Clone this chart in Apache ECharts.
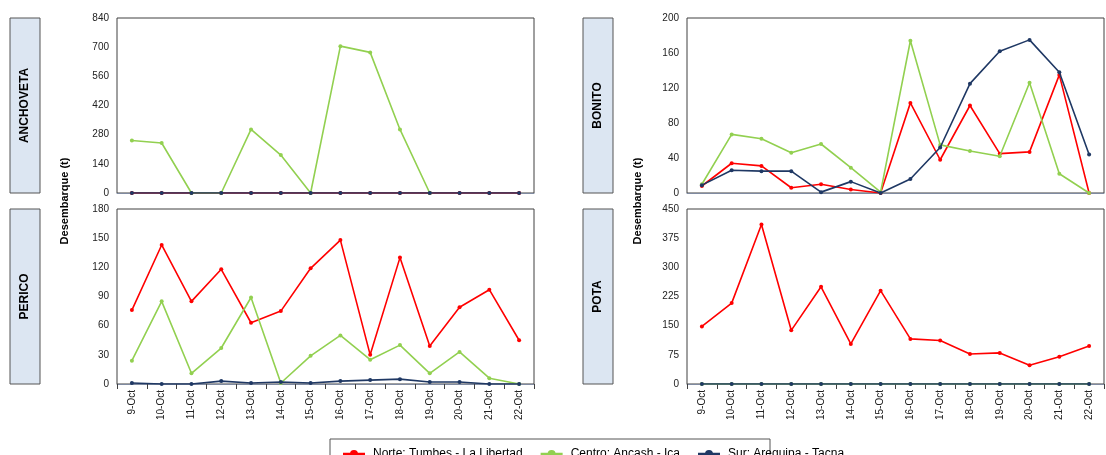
<!DOCTYPE html>
<html><head><meta charset="utf-8">
<script src="https://cdn.jsdelivr.net/npm/echarts@6/dist/echarts.min.js"></script>
<style>html,body{margin:0;background:#fff}#c{width:1106px;height:455px}</style>
</head><body><div id="c"></div>
<script>
// ─── Data ─────────────────────────────
const days = ['9-Oct','10-Oct','11-Oct','12-Oct','13-Oct','14-Oct','15-Oct','16-Oct','17-Oct','18-Oct','19-Oct','20-Oct','21-Oct','22-Oct'];
const zeros = [0,0,0,0,0,0,0,0,0,0,0,0,0,0];

const anchNorte = zeros;
const anchCentro = [252,240,0,0,305,182,0,705,675,305,0,null,null,null];
const anchSur = zeros;

const bonNorte = [8,34,31,6,10,4,0,103,38,100,45,47,135,0];
const bonCentro = [10,67,62,46,56,29,1,174,55,48,42,126,22,0];
const bonSur = [9,26,25,25,1,13,0,16,52,125,162,175,138,44];

const perNorte = [76,143,85,118,63,75,119,148,30,130,39,79,97,45];
const perCentro = [24,85,11,37,89,1,29,50,25,40,11,33,6,0];
const perSur = [1,0,0,3,1,2,1,3,4,5,2,2,0,0];

const potNorte = [148,208,410,138,250,103,240,116,112,77,80,48,70,98];
const potCentro = zeros;
const potSur = zeros;

const seriesNames = ['Norte: Tumbes - La Libertad','Centro: Ancash - Ica','Sur: Arequipa - Tacna'];
const colors = ['#ff0000','#92d050','#1f3864'];

// ─── Layout ───────────────────────────
const panels = [
  { name: 'ANCHOVETA', left: 117, top: 18, max: 840, step: 140, data: [anchNorte, anchCentro, anchSur], labels: false },
  { name: 'BONITO', left: 687, top: 18, max: 200, step: 40, data: [bonNorte, bonCentro, bonSur], labels: false },
  { name: 'PERICO', left: 117, top: 209, max: 180, step: 30, data: [perNorte, perCentro, perSur], labels: true },
  { name: 'POTA', left: 687, top: 209, max: 450, step: 75, data: [potNorte, potCentro, potSur], labels: true }
];
const W = 417, H = 175;

const grid = [], xAxis = [], yAxis = [], series = [], graphic = [];
panels.forEach((p, i) => {
  grid.push({ left: p.left, top: p.top, width: W, height: H, show: true, borderColor: '#404040', borderWidth: 1 });
  xAxis.push({
    type: 'category', gridIndex: i, data: days, boundaryGap: true,
    axisLine: { lineStyle: { color: '#7f8aa0' } },
    axisTick: { show: p.labels, lineStyle: { color: '#404040' } },
    axisLabel: { show: p.labels, rotate: 90, fontSize: 10, color: '#222', fontFamily: 'Arial', margin: 6 }
  });
  yAxis.push({
    type: 'value', gridIndex: i, min: 0, max: p.max, interval: p.step,
    splitLine: { show: false }, axisLine: { show: false }, axisTick: { show: false },
    axisLabel: { fontSize: 10, color: '#222', fontFamily: 'Arial', margin: 8 }
  });
  p.data.forEach((d, k) => {
    series.push({
      name: seriesNames[k], type: 'line', xAxisIndex: i, yAxisIndex: i, data: d,
      color: colors[k], symbol: 'circle', symbolSize: 4, z: 2 + k,
      lineStyle: { width: 1.6 }, itemStyle: { color: colors[k] }, animation: false
    });
  });
  const bx = p.left < 300 ? 10 : 583;
  graphic.push({
    type: 'rect', shape: { x: bx, y: p.top, width: 30, height: H },
    style: { fill: '#dce6f2', stroke: '#555', lineWidth: 1 }
  });
  graphic.push({
    type: 'text', x: bx + 15, y: p.top + H / 2, rotation: Math.PI / 2,
    style: { text: p.name, fill: '#000', font: 'bold 12px Arial', align: 'center', verticalAlign: 'middle' }
  });
});
[65, 638].forEach(x => graphic.push({
  type: 'text', x: x, y: 201, rotation: Math.PI / 2,
  style: { text: 'Desembarque (t)', fill: '#000', font: 'bold 11px Arial', align: 'center', verticalAlign: 'middle' }
}));
graphic.push({
  type: 'rect', shape: { x: 330, y: 439, width: 440, height: 30 },
  style: { fill: '#fff', stroke: '#555', lineWidth: 1 }, z: -1
});

const chart = echarts.init(document.getElementById('c'));
chart.setOption({
  animation: false,
  grid, xAxis, yAxis, series, graphic,
  legend: {
    data: seriesNames, left: 338, top: 443, itemGap: 18, itemWidth: 28, itemHeight: 8,
    icon: 'path://M0,3.4L11,3.4L11,4.6L0,4.6ZM5.5,2A2,2,0,1,1,5.49,2Z',
    textStyle: { fontSize: 12, fontFamily: 'Arial', color: '#000' }
  }
});
</script>
</body></html>
